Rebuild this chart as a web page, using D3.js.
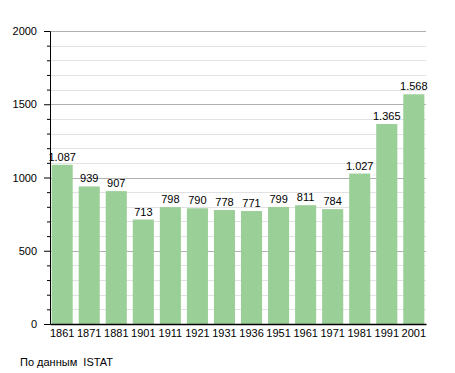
<!DOCTYPE html>
<html>
<head>
<meta charset="utf-8">
<script src="https://cdn.jsdelivr.net/npm/d3@7/dist/d3.min.js"></script>
<style>
  body { margin: 0; background: #fff; }
  text { font-family: "Liberation Sans", Arial, sans-serif; }
</style>
</head>
<body>
<div id="chart"></div>
<script>
    var years = ['1861','1871','1881','1901','1911','1921','1931','1936','1951','1961','1971','1981','1991','2001'];
    var population = [1087, 939, 907, 713, 798, 790, 778, 771, 799, 811, 784, 1027, 1365, 1568];
    var majorTicks = [0, 500, 1000, 1500, 2000];
    var sourceNote = 'По данным  ISTAT';

    var WIDTH = 455, HEIGHT = 373;
    var MARGINS = {top: 31, right: 29, bottom: 49, left: 50};

    var svg = d3.select('#chart').append('svg')
        .attr('width', WIDTH)
        .attr('height', HEIGHT);

    var plotW = WIDTH - MARGINS.left - MARGINS.right;
    var plotH = HEIGHT - MARGINS.top - MARGINS.bottom;

    var g = svg.append('g')
        .attr('transform', 'translate(' + MARGINS.left + ',' + MARGINS.top + ')');

    var x = d3.scaleBand().domain(years).range([0, plotW]).paddingInner(0.22).paddingOuter(0.06);
    var y = d3.scaleLinear().domain([0, 2000]).range([plotH, 0]);

    // minor grid every 100
    var minor = d3.range(100, 2000, 100).filter(function(v) { return v % 500 !== 0; });
    g.selectAll('.minor').data(minor).enter().append('line')
        .attr('x1', 0).attr('x2', plotW)
        .attr('y1', function(d) { return Math.round(y(d)) + 0.5; })
        .attr('y2', function(d) { return Math.round(y(d)) + 0.5; })
        .attr('stroke', '#e2e2e2');
    g.selectAll('.major').data(majorTicks.slice(1)).enter().append('line')
        .attr('x1', 0).attr('x2', plotW)
        .attr('y1', function(d) { return Math.round(y(d)) + 0.5; })
        .attr('y2', function(d) { return Math.round(y(d)) + 0.5; })
        .attr('stroke', '#b0b0b0');

    // bars
    g.selectAll('rect.bar').data(population).enter().append('rect')
        .attr('class', 'bar')
        .attr('x', function(d, i) { return x(years[i]); })
        .attr('width', x.bandwidth())
        .attr('y', function(d) { return y(d); })
        .attr('height', function(d) { return plotH - y(d); })
        .attr('fill', '#9bcf98');

    // value labels
    g.selectAll('text.val').data(population).enter().append('text')
        .attr('x', function(d, i) { return x(years[i]) + x.bandwidth() / 2; })
        .attr('y', function(d) { return y(d) - 4; })
        .attr('text-anchor', 'middle')
        .attr('font-size', 11)
        .attr('fill', '#000')
        .text(function(d) { return d >= 1000 ? d3.format(',')(d).replace(',', '.') : d; });

    // y axis
    var yAxis = d3.axisLeft(y).tickValues(majorTicks).tickSize(6).tickPadding(7).tickFormat(d3.format('d'));
    var yg = g.append('g').call(yAxis);
    yg.select('.domain').attr('stroke', '#000');
    yg.selectAll('text').attr('font-size', 11).attr('font-family', '"Liberation Sans", Arial, sans-serif');
    var yMinor = d3.axisLeft(y).tickValues(minor).tickSize(3).tickFormat('');
    g.append('g').call(yMinor).select('.domain').remove();

    // x axis
    var xAxis = d3.axisBottom(x).tickSize(0).tickPadding(5);
    var xg = g.append('g').attr('transform', 'translate(0,' + plotH + ')').call(xAxis);
    xg.select('.domain').attr('stroke', '#000').attr('stroke-width', 1.5);
    xg.selectAll('text').attr('font-size', 11).attr('font-family', '"Liberation Sans", Arial, sans-serif');

    svg.append('text')
        .attr('x', 20).attr('y', 366)
        .attr('font-size', 11)
        .style('white-space', 'pre')
        .text(sourceNote);
</script>
</body>
</html>
